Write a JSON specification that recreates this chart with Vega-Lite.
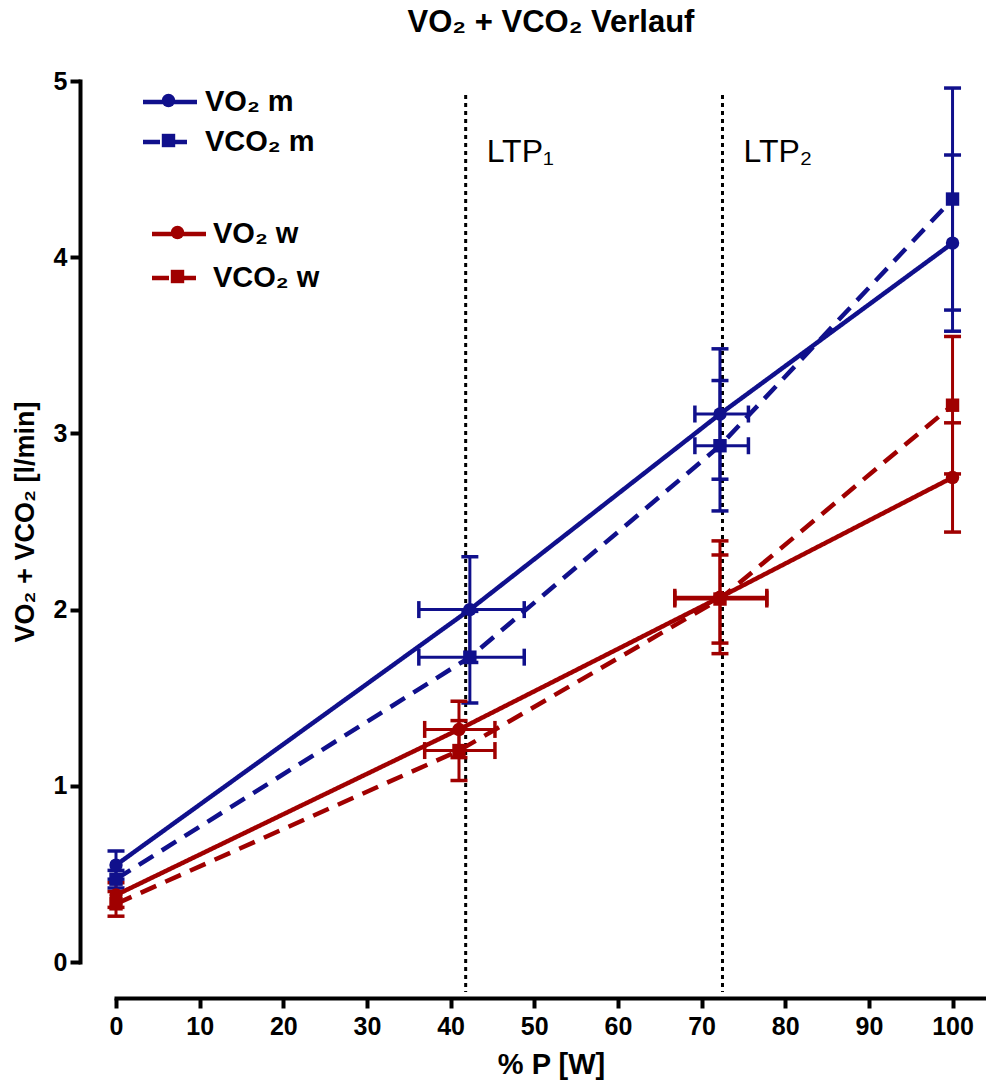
{
  "$schema": "https://vega.github.io/schema/vega-lite/v6.json",
  "autosize": {"type": "none"},
  "padding": {"left": 116, "top": 81, "right": 0, "bottom": 122},
  "width": 870,
  "height": 881,
  "background": "white",
  "config": {
    "view": {"stroke": null},
    "font": "Liberation Sans",
    "axis": {"grid": false, "domainColor": "black", "tickColor": "black", "labelColor": "black", "titleColor": "black", "domainWidth": 4, "tickWidth": 4, "labelFont": "Liberation Sans", "labelFontWeight": "bold", "labelFontSize": 25, "titleFont": "Liberation Sans", "titleFontWeight": "bold", "domainCap": "square"},
    "legend": {"title": null, "orient": "none", "padding": 0, "labelFont": "Liberation Sans", "labelFontSize": 29, "labelFontWeight": "bold", "labelColor": "black", "labelLimit": 300}
  },
  "title": {"text": "VO₂ + VCO₂ Verlauf", "font": "Liberation Sans", "fontSize": 31, "fontWeight": "bold", "color": "black", "anchor": "middle", "offset": 30},
  "datasets": {
    "pts": [
      {"series": "VO₂ m", "gas": "VO2", "sex": "m", "p": 0, "v": 0.55, "lo": 0.47, "hi": 0.63, "plo": null, "phi": null},
      {"series": "VO₂ m", "gas": "VO2", "sex": "m", "p": 42.3, "v": 2.0, "lo": 1.7, "hi": 2.3, "plo": 36.2, "phi": 48.8},
      {"series": "VO₂ m", "gas": "VO2", "sex": "m", "p": 72.2, "v": 3.11, "lo": 2.74, "hi": 3.48, "plo": 69.2, "phi": 75.6},
      {"series": "VO₂ m", "gas": "VO2", "sex": "m", "p": 100, "v": 4.08, "lo": 3.58, "hi": 4.58, "plo": null, "phi": null},
      {"series": "VCO₂ m", "gas": "VCO2", "sex": "m", "p": 0, "v": 0.47, "lo": 0.42, "hi": 0.52, "plo": null, "phi": null},
      {"series": "VCO₂ m", "gas": "VCO2", "sex": "m", "p": 42.3, "v": 1.73, "lo": 1.47, "hi": 1.99, "plo": 36.2, "phi": 48.8},
      {"series": "VCO₂ m", "gas": "VCO2", "sex": "m", "p": 72.2, "v": 2.93, "lo": 2.56, "hi": 3.3, "plo": 69.2, "phi": 75.6},
      {"series": "VCO₂ m", "gas": "VCO2", "sex": "m", "p": 100, "v": 4.33, "lo": 3.7, "hi": 4.96, "plo": null, "phi": null},
      {"series": "VO₂ w", "gas": "VO2", "sex": "w", "p": 0, "v": 0.38, "lo": 0.31, "hi": 0.45, "plo": null, "phi": null},
      {"series": "VO₂ w", "gas": "VO2", "sex": "w", "p": 41.0, "v": 1.32, "lo": 1.16, "hi": 1.48, "plo": 36.9, "phi": 45.3},
      {"series": "VO₂ w", "gas": "VO2", "sex": "w", "p": 72.2, "v": 2.07, "lo": 1.75, "hi": 2.39, "plo": 66.8, "phi": 77.8},
      {"series": "VO₂ w", "gas": "VO2", "sex": "w", "p": 100, "v": 2.75, "lo": 2.44, "hi": 3.06, "plo": null, "phi": null},
      {"series": "VCO₂ w", "gas": "VCO2", "sex": "w", "p": 0, "v": 0.33, "lo": 0.26, "hi": 0.4, "plo": null, "phi": null},
      {"series": "VCO₂ w", "gas": "VCO2", "sex": "w", "p": 41.0, "v": 1.2, "lo": 1.03, "hi": 1.37, "plo": 36.9, "phi": 45.3},
      {"series": "VCO₂ w", "gas": "VCO2", "sex": "w", "p": 72.2, "v": 2.06, "lo": 1.81, "hi": 2.31, "plo": 66.8, "phi": 77.8},
      {"series": "VCO₂ w", "gas": "VCO2", "sex": "w", "p": 100, "v": 3.16, "lo": 2.77, "hi": 3.55, "plo": null, "phi": null}
    ],
    "ltp": [
      {"p": 41.8, "label": "LTP₁"},
      {"p": 72.5, "label": "LTP₂"}
    ]
  },
  "encoding": {
    "x": {"type": "quantitative", "scale": {"domain": [0, 104], "nice": false, "zero": false}},
    "y": {"type": "quantitative", "scale": {"domain": [0, 5], "nice": false}}
  },
  "layer": [
    {
      "data": {"name": "ltp"},
      "mark": {"type": "rule", "color": "black", "strokeWidth": 3, "strokeDash": [4, 4]},
      "encoding": {
        "x": {"field": "p", "type": "quantitative", "axis": {"values": [0, 10, 20, 30, 40, 50, 60, 70, 80, 90, 100], "offset": 36, "tickSize": 10, "labelPadding": 6, "title": "% P [W]", "titleFontSize": 29, "titlePadding": 11, "labelFlush": false}},
        "y": {"datum": 4.92, "type": "quantitative", "axis": {"values": [0, 1, 2, 3, 4, 5], "format": "d", "offset": 36, "tickSize": 10, "labelPadding": 3, "title": "VO₂ + VCO₂ [l/min]", "titleFontSize": 27, "titlePadding": 14, "labelFlush": false}},
        "y2": {"datum": -0.17}
      }
    },
    {
      "data": {"name": "ltp"},
      "mark": {"type": "text", "align": "left", "baseline": "alphabetic", "dx": 21, "fontSize": 32, "font": "Liberation Sans", "color": "black"},
      "encoding": {
        "x": {"field": "p", "type": "quantitative"},
        "y": {"datum": 4.54, "type": "quantitative"},
        "text": {"field": "label"}
      }
    },
    {
      "data": {"name": "pts"},
      "mark": {"type": "rule", "strokeWidth": 3, "opacity": 1},
      "encoding": {
        "x": {"field": "p", "type": "quantitative"},
        "y": {"field": "lo", "type": "quantitative"},
        "y2": {"field": "hi"},
        "color": {"field": "sex", "type": "nominal", "scale": {"domain": ["m", "w"], "range": ["#10108c", "#a00000"]}, "legend": null}
      }
    },
    {
      "data": {"name": "pts"},
      "transform": [{"filter": "isValid(datum.plo)"}],
      "mark": {"type": "rule", "strokeWidth": 3, "opacity": 1},
      "encoding": {
        "x": {"field": "plo", "type": "quantitative"},
        "x2": {"field": "phi"},
        "y": {"field": "v", "type": "quantitative"},
        "color": {"field": "sex", "type": "nominal", "legend": null}
      }
    },
    {
      "data": {"name": "pts"},
      "transform": [{"fold": ["lo", "hi"], "as": ["end", "ev"]}],
      "mark": {"type": "tick", "orient": "horizontal", "size": 17, "thickness": 3.5, "opacity": 1},
      "encoding": {
        "x": {"field": "p", "type": "quantitative"},
        "y": {"field": "ev", "type": "quantitative"},
        "color": {"field": "sex", "type": "nominal", "legend": null}
      }
    },
    {
      "data": {"name": "pts"},
      "transform": [{"filter": "isValid(datum.plo)"}, {"fold": ["plo", "phi"], "as": ["end", "ev"]}],
      "mark": {"type": "tick", "orient": "vertical", "size": 17, "thickness": 3.5, "opacity": 1},
      "encoding": {
        "x": {"field": "ev", "type": "quantitative"},
        "y": {"field": "v", "type": "quantitative"},
        "color": {"field": "sex", "type": "nominal", "legend": null}
      }
    },
    {
      "data": {"name": "pts"},
      "transform": [{"filter": "datum.sex === 'w'"}],
      "mark": {"type": "line", "color": "#a00000", "strokeWidth": 4.5, "strokeCap": "butt"},
      "encoding": {
        "x": {"field": "p", "type": "quantitative"},
        "y": {"field": "v", "type": "quantitative"},
        "strokeDash": {
          "field": "series", "type": "nominal",
          "scale": {"domain": ["VO₂ w", "VCO₂ w"], "range": [[1, 0], [17, 10]]},
          "legend": {"legendX": 47, "legendY": 137, "symbolType": "M-2,0H2", "symbolSize": 729, "symbolStrokeWidth": 4.5, "symbolStrokeColor": "#a00000", "labelOffset": 18, "rowPadding": 13}
        }
      }
    },
    {
      "data": {"name": "pts"},
      "transform": [{"filter": "datum.sex === 'm'"}],
      "mark": {"type": "line", "color": "#10108c", "strokeWidth": 4.5, "strokeCap": "butt"},
      "encoding": {
        "x": {"field": "p", "type": "quantitative"},
        "y": {"field": "v", "type": "quantitative"},
        "strokeDash": {
          "field": "series", "type": "nominal",
          "scale": {"domain": ["VO₂ m", "VCO₂ m"], "range": [[1, 0], [17, 10]]},
          "legend": {"legendX": 38, "legendY": 5, "symbolType": "M-2,0H2", "symbolSize": 729, "symbolStrokeWidth": 4.5, "symbolStrokeColor": "#10108c", "labelOffset": 19, "rowPadding": 9}
        }
      }
    },
    {
      "data": {"name": "pts"},
      "transform": [{"filter": "datum.sex === 'w'"}],
      "mark": {"type": "point", "filled": true, "opacity": 1, "size": 180, "color": "#a00000"},
      "encoding": {
        "x": {"field": "p", "type": "quantitative"},
        "y": {"field": "v", "type": "quantitative"},
        "shape": {
          "field": "series", "type": "nominal",
          "scale": {"domain": ["VO₂ w", "VCO₂ w"], "range": ["circle", "square"]},
          "legend": {"legendX": 47, "legendY": 137, "symbolSize": 180, "symbolStrokeWidth": 0, "symbolFillColor": "#a00000", "symbolOpacity": 1, "labelExpr": "' '", "labelOffset": 18, "rowPadding": 14}
        }
      }
    },
    {
      "data": {"name": "pts"},
      "transform": [{"filter": "datum.sex === 'm'"}],
      "mark": {"type": "point", "filled": true, "opacity": 1, "size": 180, "color": "#10108c"},
      "encoding": {
        "x": {"field": "p", "type": "quantitative"},
        "y": {"field": "v", "type": "quantitative"},
        "shape": {
          "field": "series", "type": "nominal",
          "scale": {"domain": ["VO₂ m", "VCO₂ m"], "range": ["circle", "square"]},
          "legend": {"legendX": 38, "legendY": 5, "symbolSize": 180, "symbolStrokeWidth": 0, "symbolFillColor": "#10108c", "symbolOpacity": 1, "labelExpr": "' '", "labelOffset": 19, "rowPadding": 10}
        }
      }
    }
  ],
  "resolve": {
    "scale": {"shape": "independent", "strokeDash": "independent"},
    "legend": {"shape": "independent", "strokeDash": "independent"}
  }
}
